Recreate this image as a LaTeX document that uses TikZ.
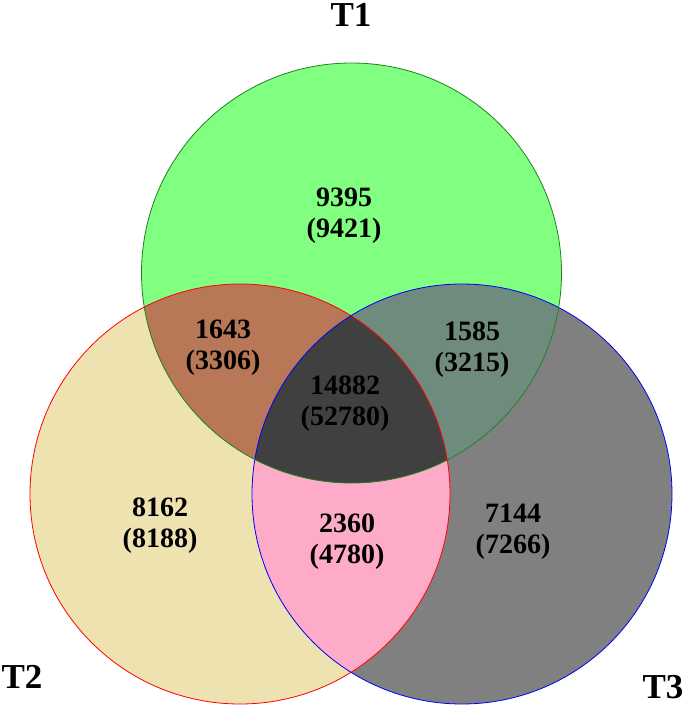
\documentclass[tikz,border=0pt]{standalone}
\usepackage{fontspec}
\setmainfont{Liberation Serif}
\definecolor{cgreen}{RGB}{128,255,128}
\definecolor{cred}{RGB}{238,226,176}
\definecolor{cblue}{RGB}{128,128,128}
\definecolor{cgr}{RGB}{184,119,86}
\definecolor{cgb}{RGB}{110,139,126}
\definecolor{crb}{RGB}{253,171,200}
\definecolor{call}{RGB}{64,64,64}
\definecolor{lgreen}{RGB}{30,130,30}
\begin{document}
\begin{tikzpicture}[x=1pt,y=-1pt,
  num/.style={font=\bfseries\fontsize{28}{31}\selectfont, align=center, inner sep=0pt},
  setlabel/.style={font=\bfseries\fontsize{35}{38}\selectfont, inner sep=0pt},
  edge/.style={line width=0.8pt}]
\useasboundingbox (0,0) rectangle (685,708);
\def\GC{(351.5,273) circle[radius=210pt]}
\def\RC{(240,494) circle[radius=210pt]}
\def\BC{(462,494) circle[radius=210pt]}
% base fills
\fill[cred] \RC;
\fill[cblue] \BC;
\fill[cgreen] \GC;
% pairwise overlaps
\begin{scope}\clip \RC; \fill[crb] \BC; \end{scope}
\begin{scope}\clip \GC; \fill[cgr] \RC; \end{scope}
\begin{scope}\clip \GC; \fill[cgb] \BC; \end{scope}
% triple overlap
\begin{scope}\clip \GC; \clip \RC; \fill[call] \BC; \end{scope}
% outlines
\draw[edge, red] \RC;
\draw[edge, blue] \BC;
\draw[edge, lgreen] \GC;
% labels
\node[setlabel] (t1) at (351,15) {T1};
\node[setlabel] (t2) at (22,677) {T2};
\node[setlabel] (t3) at (663,687) {T3};
% counts
\node[num] (a) at (344,216) {9395\\(9421)};
\node[num] (ab) at (223,348) {1643\\(3306)};
\node[num] (ac) at (472,350) {1585\\(3215)};
\node[num] (abc) at (345,404) {14882\\(52780)};
\node[num] (b) at (160,526) {8162\\(8188)};
\node[num] (bc) at (347,542) {2360\\(4780)};
\node[num] (c) at (513,532) {7144\\(7266)};
\end{tikzpicture}
\end{document}
